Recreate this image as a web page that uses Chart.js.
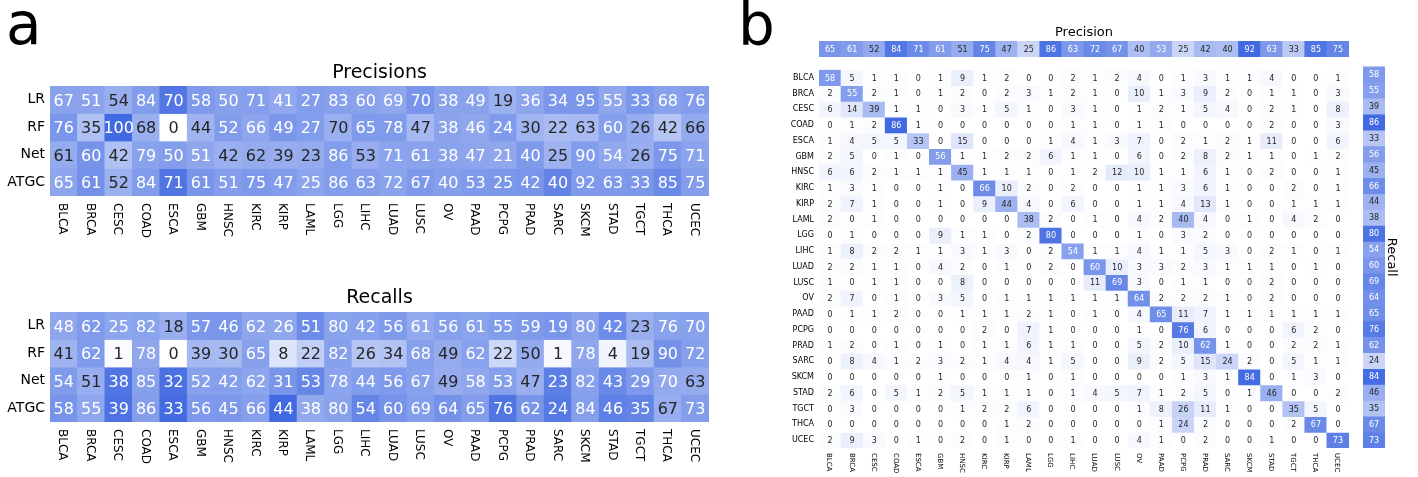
<!DOCTYPE html>
<html><head><meta charset="utf-8">
<script src="https://cdn.jsdelivr.net/npm/chart.js"></script>
<style>
html,body{margin:0;padding:0;background:#fff;width:1418px;height:477px;overflow:hidden;position:relative;font-family:"DejaVu Sans";}
canvas{position:absolute;}
.lbl{position:absolute;font-family:"DejaVu Sans";font-size:58px;line-height:58px;color:#000;}
</style></head><body>
<div class="lbl" style="left:6px;top:-5px">a</div>
<div class="lbl" style="left:738px;top:-4px">b</div>
<canvas id="precA" width="760" height="190" style="left:0;top:55px"></canvas>
<canvas id="recA" width="760" height="197" style="left:0;top:280px"></canvas>
<canvas id="precRow" width="595" height="40" style="left:760px;top:20px"></canvas>
<canvas id="matrix" width="595" height="417" style="left:760px;top:60px"></canvas>
<canvas id="recCol" width="63" height="417" style="left:1355px;top:60px"></canvas>
<script>
// ---------- data ----------
const cancerTypes = ['BLCA','BRCA','CESC','COAD','ESCA','GBM','HNSC','KIRC','KIRP','LAML','LGG','LIHC','LUAD','LUSC','OV','PAAD','PCPG','PRAD','SARC','SKCM','STAD','TGCT','THCA','UCEC'];
const methods = ['LR','RF','Net','ATGC'];

const precision_LR   = [67,51,54,84,70,58,50,71,41,27,83,60,69,70,38,49,19,36,34,95,55,33,68,76];
const precision_RF   = [76,35,100,68,0,44,52,66,49,27,70,65,78,47,38,46,24,30,22,63,60,26,42,66];
const precision_Net  = [61,60,42,79,50,51,42,62,39,23,86,53,71,61,38,47,21,40,25,90,54,26,75,71];
const precision_ATGC = [65,61,52,84,71,61,51,75,47,25,86,63,72,67,40,53,25,42,40,92,63,33,85,75];

const recall_LR   = [48,62,25,82,18,57,46,62,26,51,80,42,56,61,56,61,55,59,19,80,42,23,76,70];
const recall_RF   = [41,62,1,78,0,39,30,65,8,22,82,26,34,68,49,62,22,50,1,78,4,19,90,72];
const recall_Net  = [54,51,38,85,32,52,42,62,31,53,78,44,56,67,49,58,53,47,23,82,43,29,70,63];
const recall_ATGC = [58,55,39,86,33,56,45,66,44,38,80,54,60,69,64,65,76,62,24,84,46,35,67,73];

// confusion matrix rows (true class), columns = predicted class, in %
const cm_BLCA = [58,5,1,1,0,1,9,1,2,0,0,2,1,2,4,0,1,3,1,1,4,0,0,1];
const cm_BRCA = [2,55,2,1,0,1,2,0,2,3,1,2,1,0,10,1,3,9,2,0,1,1,0,3];
const cm_CESC = [6,14,39,1,1,0,3,1,5,1,0,3,1,0,1,2,1,5,4,0,2,1,0,8];
const cm_COAD = [0,1,2,86,1,0,0,0,0,0,0,1,1,0,1,1,0,0,0,0,2,0,0,3];
const cm_ESCA = [1,4,5,5,33,0,15,0,0,0,1,4,1,3,7,0,2,1,2,1,11,0,0,6];
const cm_GBM  = [2,5,0,1,0,56,1,1,2,2,6,1,1,0,6,0,2,8,2,1,1,0,1,2];
const cm_HNSC = [6,6,2,1,1,1,45,1,1,1,0,1,2,12,10,1,1,6,1,0,2,0,0,1];
const cm_KIRC = [1,3,1,0,0,1,0,66,10,2,0,2,0,0,1,1,3,6,1,0,0,2,0,1];
const cm_KIRP = [2,7,1,0,0,1,0,9,44,4,0,6,0,0,1,1,4,13,1,0,0,1,1,1];
const cm_LAML = [2,0,1,0,0,0,0,0,0,38,2,0,1,0,4,2,40,4,0,1,0,4,2,0];
const cm_LGG  = [0,1,0,0,0,9,1,1,0,2,80,0,0,0,1,0,3,2,0,0,0,0,0,0];
const cm_LIHC = [1,8,2,2,1,1,3,1,3,0,2,54,1,1,4,1,1,5,3,0,2,1,0,1];
const cm_LUAD = [2,2,1,1,0,4,2,0,1,0,2,0,60,10,3,3,2,3,1,1,1,0,1,0];
const cm_LUSC = [1,0,1,1,0,0,8,0,0,0,0,0,11,69,3,0,1,1,0,0,2,0,0,0];
const cm_OV   = [2,7,0,1,0,3,5,0,1,1,1,1,1,1,64,2,2,2,1,0,2,0,0,0];
const cm_PAAD = [0,1,1,2,0,0,1,1,1,2,1,0,1,0,4,65,11,7,1,1,1,1,1,1];
const cm_PCPG = [0,0,0,0,0,0,0,2,0,7,1,0,0,0,1,0,76,6,0,0,0,6,2,0];
const cm_PRAD = [1,2,0,1,0,1,0,1,1,6,1,1,0,0,5,2,10,62,1,0,0,2,2,1];
const cm_SARC = [0,8,4,1,2,3,2,1,4,4,1,5,0,0,9,2,5,15,24,2,0,5,1,1];
const cm_SKCM = [0,0,0,0,0,1,0,0,0,1,0,1,0,0,0,0,1,3,1,84,0,1,3,0];
const cm_STAD = [2,6,0,5,1,2,5,1,1,1,0,1,4,5,7,1,2,5,0,1,46,0,0,2];
const cm_TGCT = [0,3,0,0,0,0,1,2,2,6,0,0,0,0,1,8,26,11,1,0,0,35,5,0];
const cm_THCA = [0,0,0,0,0,0,0,0,1,2,0,0,0,0,0,1,24,2,0,0,0,2,67,0];
const cm_UCEC = [2,9,3,0,1,0,2,0,1,0,0,1,0,0,4,1,0,2,0,0,1,0,0,73];

// ---------- helpers ----------
const WHITE = [255,255,255], BLUE = [65,105,225];
function cmap(t){ t = Math.max(0, Math.min(1, t)); return BLUE.map((b,k)=>Math.round(WHITE[k] + (b - WHITE[k]) * t)); }
function lum(rgb){ const c = rgb.map(v=>{ v/=255; return v <= 0.03928 ? v/12.92 : Math.pow((v+0.055)/1.055, 2.4); }); return 0.2126*c[0] + 0.7152*c[1] + 0.0722*c[2]; }
const FONT = '"DejaVu Sans"';

function heatmap(id, c) {
  const colors = c.shade.map(r => r.map(t => cmap(t)));
  const datasets = c.values.map((row, i) => ({
    label: c.rowNames[i],
    data: row.map(() => [i, i + 1]),
    backgroundColor: colors[i].map(rgb => `rgb(${rgb.join(',')})`),
    borderWidth: 0, borderSkipped: false, grouped: false,
    barPercentage: 1, categoryPercentage: 1, inflateAmount: 0.4
  }));
  const plugin = {
    id: 'heatText',
    afterDatasetsDraw(chart) {
      const ctx = chart.ctx, area = chart.chartArea, xs = chart.scales.x;
      ctx.save();
      ctx.font = `${c.fs}px ${FONT}`;
      ctx.textAlign = 'center'; ctx.textBaseline = 'alphabetic';
      chart.data.datasets.forEach((ds, i) => {
        chart.getDatasetMeta(i).data.forEach((el, j) => {
          const cy = (el.y + el.base) / 2;
          ctx.fillStyle = lum(colors[i][j]) > 0.408 ? '#262626' : '#ffffff';
          ctx.fillText(String(c.values[i][j]), el.x, cy + 0.364 * c.fs);
        });
      });
      ctx.fillStyle = '#000';
      if (c.xLabels) {
        ctx.font = `${c.xfs}px ${FONT}`;
        ctx.textAlign = 'left';
        c.xLabels.forEach((lab, j) => {
          const x = xs.getPixelForValue(j);
          ctx.save();
          ctx.translate(x, area.bottom + c.xGap);
          ctx.rotate(Math.PI / 2);
          ctx.fillText(lab, 0, 0.365 * c.xfs);
          ctx.restore();
        });
      }
      if (c.title) {
        ctx.font = `${c.titleFs}px ${FONT}`;
        ctx.textAlign = 'center';
        ctx.fillText(c.title, (area.left + area.right) / 2, c.titleY);
      }
      if (c.sideLabel) {
        ctx.font = `${c.sideFs}px ${FONT}`;
        ctx.textAlign = 'center';
        ctx.save();
        ctx.translate(area.right + c.sideGap, (area.top + area.bottom) / 2);
        ctx.rotate(Math.PI / 2);
        ctx.fillText(c.sideLabel, 0, 0.365 * c.sideFs);
        ctx.restore();
      }
      ctx.restore();
    }
  };
  const nR = c.values.length;
  new Chart(document.getElementById(id), {
    type: 'bar',
    data: { labels: c.cols, datasets },
    options: {
      responsive: false, maintainAspectRatio: false, animation: false, devicePixelRatio: 1,
      events: [],
      layout: { padding: c.padding },
      plugins: { legend: { display: false }, tooltip: { enabled: false }, title: { display: false } },
      scales: {
        x: {
          type: 'category', offset: true,
          grid: { display: false, drawTicks: false }, border: { display: false },
          ticks: { display: false },
          afterFit: s => { s.height = 0; }
        },
        y: {
          type: 'linear', min: 0, max: nR, reverse: true,
          grid: { display: false, drawTicks: false }, border: { display: false },
          ticks: {
            display: !!c.yLabels, autoSkip: false, padding: 5,
            font: { family: 'DejaVu Sans', size: c.yfs || 10 }, color: '#000',
            callback: v => (c.yLabels ? c.yLabels[Math.floor(v)] : '')
          },
          afterBuildTicks: s => { s.ticks = c.values.map((_, i) => ({ value: i + 0.5 })); },
          afterFit: s => { s.width = c.yAxisWidth; }
        }
      }
    },
    plugins: [plugin]
  });
}

// column-normalised shading for panel a
function colShare(rows) {
  const sums = rows[0].map((_, j) => rows.reduce((a, r) => a + r[j], 0));
  const share = rows.map(r => r.map((v, j) => v / sums[j]));
  const mx = Math.max(...share.flat());
  return share.map(r => r.map(v => v / mx));
}
function scaleMax(rows) {
  const mx = Math.max(...rows.flat());
  return rows.map(r => r.map(v => v / mx));
}

// ---------- panel a ----------
const precRows = [precision_LR, precision_RF, precision_Net, precision_ATGC];
const recRows  = [recall_LR, recall_RF, recall_Net, recall_ATGC];

heatmap('precA', {
  cols: cancerTypes, rowNames: methods, values: precRows, shade: colShare(precRows),
  fs: 16, xfs: 12, yfs: 14, yLabels: methods, xLabels: cancerTypes, xGap: 7,
  yAxisWidth: 50, padding: { top: 31, bottom: 49, left: 0, right: 51 },
  title: 'Precisions', titleFs: 19, titleY: 23
});
heatmap('recA', {
  cols: cancerTypes, rowNames: methods, values: recRows, shade: colShare(recRows),
  fs: 16, xfs: 12, yfs: 14, yLabels: methods, xLabels: cancerTypes, xGap: 7,
  yAxisWidth: 50, padding: { top: 32, bottom: 55, left: 0, right: 51 },
  title: 'Recalls', titleFs: 19, titleY: 23
});

// ---------- panel b ----------
const cmRows = [cm_BLCA, cm_BRCA, cm_CESC, cm_COAD, cm_ESCA, cm_GBM, cm_HNSC, cm_KIRC, cm_KIRP, cm_LAML, cm_LGG, cm_LIHC,
                cm_LUAD, cm_LUSC, cm_OV, cm_PAAD, cm_PCPG, cm_PRAD, cm_SARC, cm_SKCM, cm_STAD, cm_TGCT, cm_THCA, cm_UCEC];

heatmap('precRow', {
  cols: cancerTypes, rowNames: ['Precision'], values: [precision_ATGC], shade: scaleMax([precision_ATGC]),
  fs: 8, yAxisWidth: 59, padding: { top: 21, bottom: 3, left: 0, right: 6 },
  title: 'Precision', titleFs: 13, titleY: 16
});
heatmap('matrix', {
  cols: cancerTypes, rowNames: cancerTypes, values: cmRows, shade: scaleMax(cmRows),
  fs: 8, yfs: 8, xfs: 7, yLabels: cancerTypes, xLabels: cancerTypes, xGap: 5,
  yAxisWidth: 59, padding: { top: 6.4, bottom: 29, left: 0, right: 6 }
});
const recColRows = recall_ATGC.map(v => [v]);
heatmap('recCol', {
  cols: ['Recall'], rowNames: cancerTypes, values: recColRows, shade: scaleMax(recColRows),
  fs: 8, yAxisWidth: 0, padding: { top: 6.4, bottom: 29, left: 8, right: 33 },
  sideLabel: 'Recall', sideFs: 13, sideGap: 8
});
</script>
</body></html>
